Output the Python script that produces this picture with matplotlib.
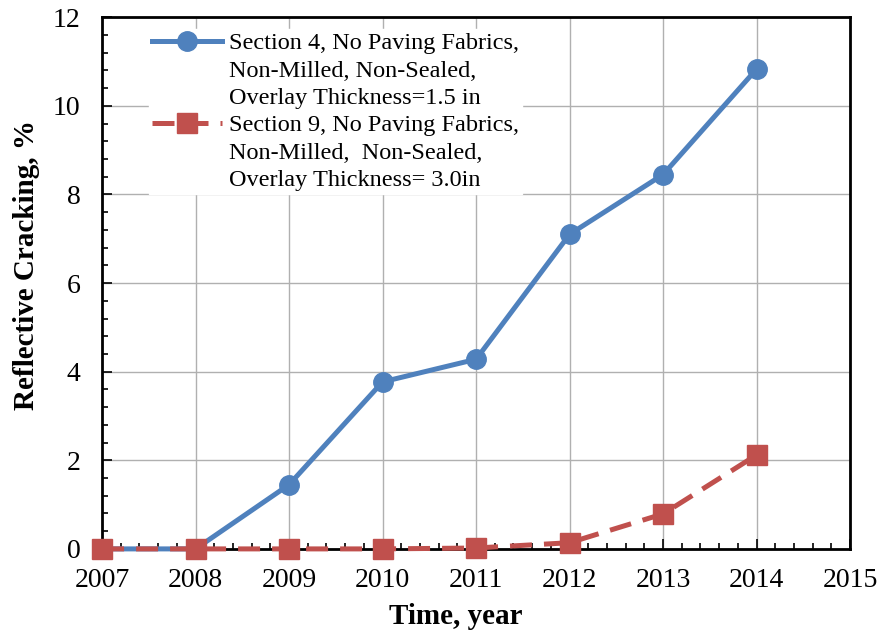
import matplotlib.pyplot as plt
from matplotlib.lines import Line2D
from matplotlib.ticker import MultipleLocator

plt.rcParams['font.family'] = ['Liberation Serif', 'DejaVu Serif']

# reflective cracking by survey year
years = [2007, 2008, 2009, 2010, 2011, 2012, 2013, 2014]
section4 = [0, 0, 1.45, 3.77, 4.28, 7.1, 8.45, 10.83]
section9 = [0, 0, 0, 0, 0.02, 0.14, 0.79, 2.12]

label4 = ["Section 4, No Paving Fabrics,", "Non-Milled, Non-Sealed,",
          "Overlay Thickness=1.5 in"]
label9 = ["Section 9, No Paving Fabrics,", "Non-Milled,  Non-Sealed,",
          "Overlay Thickness= 3.0in"]

fig = plt.figure(figsize=(8.8, 6.39), dpi=100)
ax = fig.add_axes([0.116, 0.141, 0.850, 0.832])

l4, = ax.plot(years, section4, color='#4F81BD', lw=3.6, marker='o', ms=14,
              zorder=3, clip_on=False)
l9, = ax.plot(years, section9, color='#C0504D', lw=3.6, marker='s', ms=14,
              dashes=(4.4, 2.4), zorder=4, clip_on=False)

ax.set_xlim(2007, 2015)
ax.set_ylim(0, 12)
ax.xaxis.set_major_locator(MultipleLocator(1))
ax.xaxis.set_minor_locator(MultipleLocator(0.2))
ax.yaxis.set_major_locator(MultipleLocator(2))
ax.yaxis.set_minor_locator(MultipleLocator(0.4))
ax.grid(True, which='major', color='#b0b0b0', lw=1.0)
ax.set_axisbelow(True)

ax.tick_params(which='both', direction='in', top=False, right=False,
               labelsize=20, width=1.2)
ax.tick_params(which='major', length=7)
ax.tick_params(which='minor', length=4)
ax.tick_params(axis='x', which='major', pad=14)
ax.tick_params(axis='y', which='major', pad=15.5)
for s in ax.spines.values():
    s.set_linewidth(2)

ax.set_xlabel('Time, year', fontsize=21, fontweight='bold')
ax.set_ylabel('Reflective Cracking, %', fontsize=21, fontweight='bold')
ax.xaxis.set_label_coords(0.473, -0.102)
ax.yaxis.set_label_coords(-0.083, 0.534)

# handle only on the first row of each entry
blank = Line2D([], [], color='none')
handles = [l4, blank, blank, l9, blank, blank]
labels = label4 + label9
leg = ax.legend(handles, labels, loc='upper left', bbox_to_anchor=(0.047, 1.0),
                fontsize=17.5, frameon=True, handlelength=2.85, handletextpad=0.3,
                labelspacing=0.22, borderpad=0.12, fancybox=False)
leg.get_frame().set_edgecolor('white')
leg.get_frame().set_facecolor('white')
leg.get_frame().set_alpha(1.0)

fig.savefig('out.png', dpi=100)
